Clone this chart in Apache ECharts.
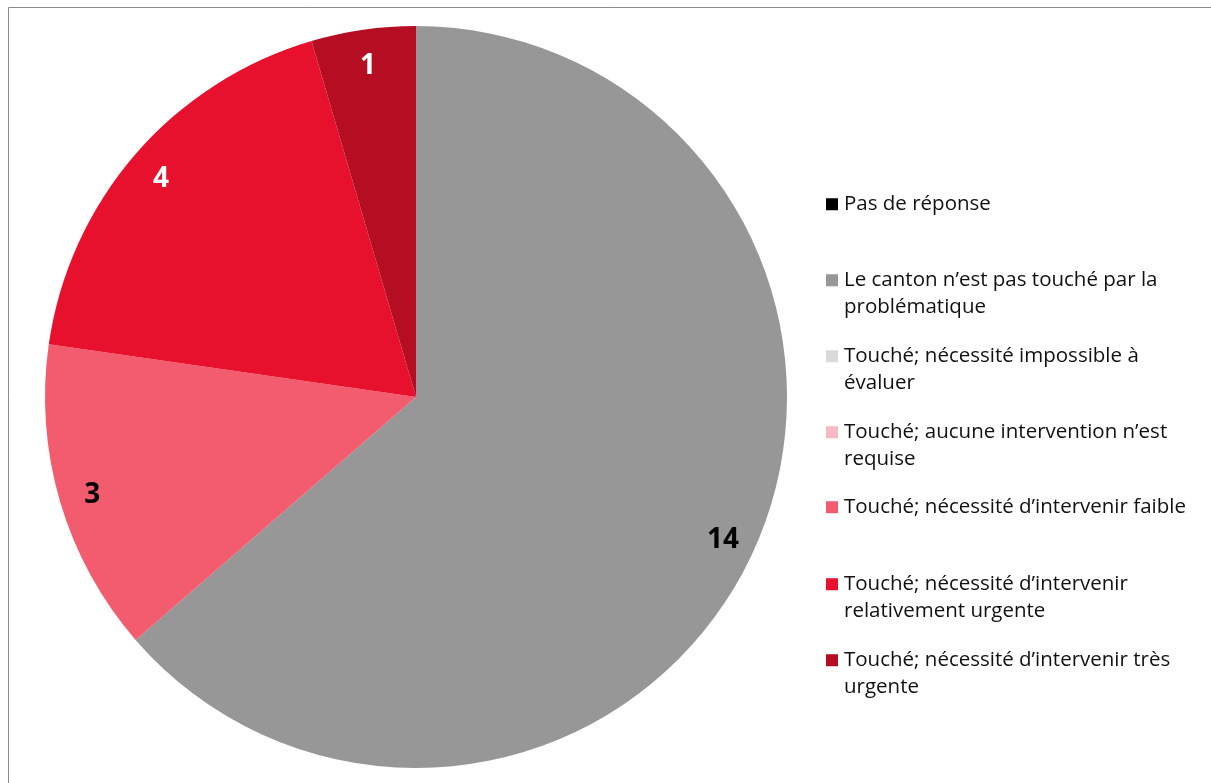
<!DOCTYPE html>
<html>
<head>
<meta charset="utf-8">
<script src="https://cdn.jsdelivr.net/npm/echarts@6/dist/echarts.min.js"></script>
<style>
html,body{margin:0;padding:0;background:#fff;}
#chart{width:1211px;height:783px;}
</style>
</head>
<body>
<div id="chart"></div>
<script>
// ---- data ----
const categories = [
  'Pas de réponse',
  'Le canton n’est pas touché par la problématique',
  'Touché; nécessité impossible à évaluer',
  'Touché; aucune intervention n’est requise',
  'Touché; nécessité d’intervenir faible',
  'Touché; nécessité d’intervenir relativement urgente',
  'Touché; nécessité d’intervenir très urgente'
];
const values = [0, 14, 0, 0, 3, 4, 1];
const legendLabels = [
  'Pas de réponse',
  'Le canton n’est pas touché par la\nproblématique',
  'Touché; nécessité impossible à\névaluer',
  'Touché; aucune intervention n’est\nrequise',
  'Touché; nécessité d’intervenir faible',
  'Touché; nécessité d’intervenir\nrelativement urgente',
  'Touché; nécessité d’intervenir très\nurgente'
];
const colors = ['#000000', '#979797', '#dadada', '#f6b9c1', '#f25c6e', '#e8112d', '#b50e22'];
const labelColors = ['#000', '#000', '#000', '#000', '#000', '#fff', '#fff'];

// ---- layout ----
const CX = 416, CY = 397, R = 371;
const LINE_H = 26.5;
const legendFirstLineY = [202, 278, 354, 430, 505, 582, 658];
const ICON = 12;

const chart = echarts.init(document.getElementById('chart'), null, {renderer: 'canvas'});

const legends = categories.map((name, i) => {
  const nLines = legendLabels[i].split('\n').length;
  const extra = (nLines - 1) * LINE_H;
  const h = ICON + extra;
  // square at the top of the icon box so it lines up with the first text line
  const iconPath = 'path://M0,0h12v12h-12z' + (extra ? ' M0,' + h + 'h0.001v-0.001h-0.001z' : '');
  return {
    orient: 'vertical',
    left: 826,
    top: legendFirstLineY[i] - 11,
    padding: 0,
    itemWidth: ICON,
    itemHeight: h,
    itemGap: 0,
    icon: iconPath,
    selectedMode: false,
    data: [name],
    formatter: () => legendLabels[i],
    textStyle: {
      fontFamily: 'Open Sans',
      fontSize: 20.5,
      color: '#111',
      lineHeight: LINE_H,
      padding: [0, 0, 0, 1]
    }
  };
});

const option = {
  backgroundColor: '#ffffff',
  animation: false,
  color: colors,
  legend: legends,
  graphic: [{
    type: 'rect',
    shape: {x: 8.5, y: 7.5, width: 1400, height: 900},
    style: {fill: 'none', stroke: '#8a8a8a', lineWidth: 1},
    silent: true
  }],
  series: [{
    type: 'pie',
    center: [CX, CY],
    radius: [0, R],
    startAngle: 90,
    clockwise: true,
    silent: true,
    avoidLabelOverlap: false,
    itemStyle: {borderWidth: 0},
    label: {
      show: true,
      position: 'inside',
      fontFamily: 'Open Sans',
      fontWeight: 'bold',
      fontSize: 28,
      formatter: p => (p.value ? String(p.value) : '')
    },
    labelLine: {show: false},
    labelLayout: function (params) {
      const r = params.labelRect;
      const lx = r.x + r.width / 2, ly = r.y + r.height / 2;
      // move label from half radius to ~0.9 radius along its own direction
      return {dx: (lx - CX) * 0.79, dy: (ly - CY) * 0.79 + 3};
    },
    data: categories.map((name, i) => ({
      name: name,
      value: values[i],
      label: {color: labelColors[i]}
    }))
  }]
};
chart.setOption(option);
</script>
</body>
</html>
